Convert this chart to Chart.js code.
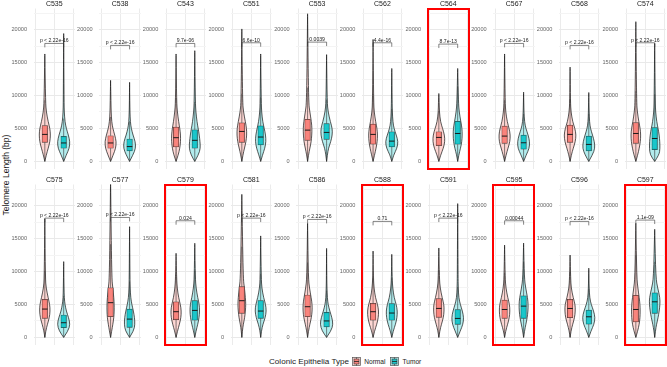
<!DOCTYPE html>
<html>
<head>
<meta charset="utf-8">
<script src="https://cdn.jsdelivr.net/npm/chart.js@4.4.1/dist/chart.umd.min.js"></script>
<style>
html, body { margin: 0; padding: 0; background: #fff; }
#wrap { position: relative; width: 667px; height: 367px; overflow: hidden; font-family: "Liberation Sans", Arial, sans-serif; }
#wrap canvas { position: absolute; }
.hl { position: absolute; border: 2px solid #FF0000; box-sizing: border-box; pointer-events: none; }
#ytitle { position: absolute; left: 5.5px; top: 175px; transform: translate(-50%, -50%) rotate(-90deg); font-size: 8.5px; color: #1a1a1a; white-space: nowrap; }
#legend { position: absolute; left: 269px; top: 355px; height: 12px; display: flex; align-items: center; white-space: nowrap; color: #1a1a1a; }
#legend .ttl { font-size: 8.1px; margin-right: 2.6px; }
#legend .lab { font-size: 6.6px; margin: 0 4.3px 0 3.7px; }
#legend svg { display: block; }
</style>
</head>
<body>
<div id="wrap">
  <div id="ytitle">Telomere Length (bp)</div>
  <div id="legend">
    <span class="ttl">Colonic Epithelia Type</span>
    <svg width="9" height="9"><rect x="0.4" y="0.4" width="8.2" height="8.2" fill="rgba(248,118,109,0.3)" stroke="#555" stroke-width="0.7"/><rect x="2" y="2" width="5" height="5" fill="rgba(248,118,109,0.85)" stroke="#333" stroke-width="0.6"/><line x1="2" y1="4.5" x2="7" y2="4.5" stroke="#222" stroke-width="0.8"/><line x1="4.5" y1="0.4" x2="4.5" y2="2" stroke="#333" stroke-width="0.6"/><line x1="4.5" y1="7" x2="4.5" y2="8.6" stroke="#333" stroke-width="0.6"/></svg>
    <span class="lab">Normal</span>
    <svg width="9" height="9"><rect x="0.4" y="0.4" width="8.2" height="8.2" fill="rgba(0,191,196,0.3)" stroke="#555" stroke-width="0.7"/><rect x="2" y="2" width="5" height="5" fill="rgba(0,191,196,0.85)" stroke="#333" stroke-width="0.6"/><line x1="2" y1="4.5" x2="7" y2="4.5" stroke="#222" stroke-width="0.8"/><line x1="4.5" y1="0.4" x2="4.5" y2="2" stroke="#333" stroke-width="0.6"/><line x1="4.5" y1="7" x2="4.5" y2="8.6" stroke="#333" stroke-width="0.6"/></svg>
    <span class="lab">Tumor</span>
  </div>
</div>
<script>
// samples, in facet order (2 rows x 10)
const samples = ['C535', 'C538', 'C543', 'C551', 'C553', 'C562', 'C564', 'C567', 'C568', 'C574',
                 'C575', 'C577', 'C579', 'C581', 'C586', 'C588', 'C591', 'C595', 'C596', 'C597'];
const highlighted = ['C564', 'C579', 'C588', 'C595', 'C597'];
const pLabels = ['p < 2.22e-16', 'p < 2.22e-16', '9.7e-06', '6.6e-10', '0.0039', '4.4e-16', '8.7e-13', 'p < 2.22e-16', 'p < 2.22e-16', 'p < 2.22e-16',
                 'p < 2.22e-16', 'p < 2.22e-16', '0.024', 'p < 2.22e-16', 'p < 2.22e-16', '0.71', 'p < 2.22e-16', '0.00044', 'p < 2.22e-16', '1.1e-09'];
const bracketY = [17900, 17600, 17900, 18000, 18100, 18000, 17800, 17900, 17600, 18000,
                  18100, 18200, 17700, 18100, 17900, 17600, 18100, 17700, 17600, 17800];
const categories = ['Normal', 'Tumor'];
const yTicks = [0, 2500, 5000, 7500, 10000, 12500, 15000, 17500, 20000, 22500];

// box statistics (bp)
const normalQ1  = [2900, 2000, 2200, 2900, 3200, 2630, 2400, 2730, 2880, 2730, 2890, 3140, 2700, 3650, 3140, 2630, 3030, 2880, 2980, 2370];
const normalMed = [4100, 2800, 3600, 4550, 4750, 4100, 3640, 3840, 4100, 4240, 4300, 5270, 3900, 5570, 4660, 3900, 4400, 4240, 4390, 4240];
const normalQ3  = [5450, 3900, 5200, 5850, 6400, 5650, 4500, 5350, 5500, 5900, 5770, 7540, 5400, 7700, 6430, 5160, 5900, 5650, 5760, 6400];
const normalMax = [16300, 12300, 16300, 20100, 22400, 18500, 10300, 16300, 14300, 21200, 18000, 23900, 12760, 21700, 17300, 13100, 13570, 14000, 12500, 17300];
const tumorQ1  = [2000, 1600, 2000, 2500, 3330, 2200, 2600, 1870, 1600, 1800, 1470, 1520, 2600, 2900, 1600, 2600, 1970, 2880, 2020, 3640];
const tumorMed = [2800, 2250, 3200, 3700, 4400, 3080, 4240, 2830, 2580, 3480, 2230, 2780, 4100, 4000, 2500, 3700, 2880, 4750, 3130, 5400];
const tumorQ3  = [3800, 3400, 4800, 5400, 5750, 4500, 6100, 4000, 3840, 5150, 3400, 4300, 5600, 5600, 3800, 5150, 4240, 6300, 4140, 6770];
const tumorMax = [19400, 12000, 16800, 16300, 16200, 14100, 14100, 10500, 10450, 17900, 11500, 16800, 14280, 15400, 13500, 12600, 20300, 14300, 10500, 16400];

// violin half-widths (x units) read at these telomere lengths
const densityLevels = [0, 1000, 2000, 3000, 4000, 5000, 6000, 7500, 9000];
const normalWidths = [
    [0, 0.08, 0.18, 0.27, 0.30, 0.27, 0.18, 0.08, 0.04],
    [0, 0.14, 0.27, 0.30, 0.22, 0.12, 0.06, 0.03, 0.02],
    [0, 0.12, 0.20, 0.24, 0.24, 0.20, 0.14, 0.07, 0.03],
    [0, 0.06, 0.14, 0.22, 0.26, 0.25, 0.19, 0.09, 0.04],
    [0, 0.05, 0.12, 0.19, 0.22, 0.23, 0.20, 0.12, 0.05],
    [0, 0.08, 0.16, 0.22, 0.24, 0.21, 0.14, 0.06, 0.03],
    [0, 0.10, 0.24, 0.32, 0.30, 0.20, 0.09, 0.03, 0.02],
    [0, 0.08, 0.18, 0.28, 0.30, 0.24, 0.14, 0.06, 0.03],
    [0, 0.07, 0.17, 0.28, 0.32, 0.26, 0.14, 0.05, 0.02],
    [0, 0.10, 0.18, 0.24, 0.26, 0.23, 0.16, 0.08, 0.04],
    [0, 0.05, 0.14, 0.24, 0.28, 0.26, 0.18, 0.07, 0.03],
    [0, 0.06, 0.12, 0.17, 0.19, 0.19, 0.17, 0.12, 0.06],
    [0, 0.08, 0.18, 0.26, 0.28, 0.23, 0.14, 0.06, 0.03],
    [0, 0.03, 0.08, 0.15, 0.19, 0.21, 0.19, 0.14, 0.07],
    [0, 0.05, 0.12, 0.20, 0.24, 0.24, 0.19, 0.10, 0.04],
    [0, 0.08, 0.20, 0.28, 0.30, 0.24, 0.13, 0.05, 0.02],
    [0, 0.05, 0.14, 0.24, 0.28, 0.27, 0.18, 0.07, 0.03],
    [0, 0.06, 0.16, 0.25, 0.28, 0.26, 0.17, 0.07, 0.03],
    [0, 0.05, 0.14, 0.24, 0.28, 0.27, 0.17, 0.06, 0.03],
    [0, 0.10, 0.18, 0.22, 0.23, 0.22, 0.18, 0.11, 0.05]
];
const tumorWidths = [
    [0, 0.14, 0.30, 0.33, 0.25, 0.14, 0.07, 0.03, 0.02],
    [0, 0.18, 0.32, 0.30, 0.18, 0.09, 0.04, 0.02, 0.01],
    [0, 0.20, 0.30, 0.28, 0.24, 0.18, 0.12, 0.06, 0.03],
    [0, 0.10, 0.22, 0.28, 0.26, 0.19, 0.11, 0.05, 0.03],
    [0, 0.04, 0.10, 0.22, 0.30, 0.30, 0.20, 0.08, 0.03],
    [0, 0.10, 0.28, 0.34, 0.24, 0.12, 0.06, 0.03, 0.02],
    [0, 0.06, 0.15, 0.22, 0.24, 0.23, 0.17, 0.08, 0.04],
    [0, 0.14, 0.30, 0.32, 0.24, 0.12, 0.05, 0.02, 0.01],
    [0, 0.20, 0.33, 0.30, 0.20, 0.09, 0.04, 0.02, 0.01],
    [0, 0.24, 0.28, 0.27, 0.24, 0.18, 0.11, 0.05, 0.03],
    [0, 0.24, 0.34, 0.26, 0.14, 0.07, 0.03, 0.02, 0.01],
    [0, 0.22, 0.28, 0.26, 0.20, 0.12, 0.06, 0.03, 0.02],
    [0, 0.07, 0.16, 0.23, 0.26, 0.24, 0.16, 0.07, 0.03],
    [0, 0.04, 0.12, 0.24, 0.30, 0.26, 0.16, 0.06, 0.03],
    [0, 0.24, 0.34, 0.28, 0.17, 0.08, 0.04, 0.02, 0.01],
    [0, 0.08, 0.20, 0.28, 0.30, 0.24, 0.13, 0.05, 0.02],
    [0, 0.14, 0.28, 0.32, 0.25, 0.14, 0.06, 0.03, 0.02],
    [0, 0.05, 0.12, 0.19, 0.23, 0.24, 0.21, 0.11, 0.04],
    [0, 0.12, 0.28, 0.34, 0.26, 0.13, 0.05, 0.02, 0.01],
    [0, 0.04, 0.10, 0.18, 0.24, 0.28, 0.28, 0.16, 0.06]
];

const COLORS = { Normal: [248, 118, 109], Tumor: [0, 191, 196] };
const rgba = (c, a) => `rgba(${c[0]},${c[1]},${c[2]},${a})`;
const FONT = '"Liberation Sans", Arial, sans-serif';

// layout of the facet grid
const PANEL_LEFT0 = 33.5, PANEL_STEP = 65.67, PANEL_W = 41, PANEL_H = 160.5;
const ROW_TOP = [8.5, 184.5], TITLE_H = 8.5, AXIS_W = 34;

function violinStats(i) {
    return [
        { x: 1, cat: 'Normal', q1: normalQ1[i], med: normalMed[i], q3: normalQ3[i], max: normalMax[i], widths: normalWidths[i] },
        { x: 2, cat: 'Tumor', q1: tumorQ1[i], med: tumorMed[i], q3: tumorQ3[i], max: tumorMax[i], widths: tumorWidths[i] }
    ];
}

const violinPlugin = {
    id: 'violins',
    beforeDatasetsDraw(chart, args, opts) {
        const { ctx, chartArea: a, scales: { x, y } } = chart;
        ctx.save();
        ctx.beginPath();
        ctx.rect(a.left, a.top, a.width, a.height);
        ctx.clip();
        violinStats(opts.idx).forEach(v => {
            // outline: right side bottom->top, then left side top->bottom
            const prof = densityLevels.map((lv, k) => [lv, v.widths[k]]).filter(p => p[0] < v.max);
            prof.push([v.max, 0]);
            const right = prof.map(p => [x.getPixelForValue(v.x + p[1]), y.getPixelForValue(p[0])]);
            const left = prof.slice().reverse().map(p => [x.getPixelForValue(v.x - p[1]), y.getPixelForValue(p[0])]);
            const pts = right.concat(left);
            ctx.beginPath();
            ctx.moveTo(pts[0][0], pts[0][1]);
            for (let k = 1; k < pts.length - 1; k++) {
                const mx = (pts[k][0] + pts[k + 1][0]) / 2, my = (pts[k][1] + pts[k + 1][1]) / 2;
                ctx.quadraticCurveTo(pts[k][0], pts[k][1], mx, my);
            }
            ctx.lineTo(pts[pts.length - 1][0], pts[pts.length - 1][1]);
            ctx.closePath();
            ctx.fillStyle = rgba(COLORS[v.cat], 0.3);
            ctx.fill();
            ctx.lineWidth = 0.75;
            ctx.strokeStyle = 'rgba(20,20,20,0.95)';
            ctx.stroke();
        });
        ctx.restore();
    },
    afterDatasetsDraw(chart, args, opts) {
        const { ctx, scales: { x, y } } = chart;
        const i = opts.idx;
        ctx.save();
        violinStats(i).forEach(v => {
            const px = x.getPixelForValue(v.x);
            const iqr = v.q3 - v.q1;
            const hi = Math.min(v.max, v.q3 + 1.5 * iqr);
            const lo = Math.max(0, v.q1 - 1.5 * iqr);
            ctx.strokeStyle = '#333';
            ctx.lineWidth = 0.6;
            ctx.beginPath();
            ctx.moveTo(px, y.getPixelForValue(v.q3));
            ctx.lineTo(px, y.getPixelForValue(hi));
            ctx.moveTo(px, y.getPixelForValue(v.q1));
            ctx.lineTo(px, y.getPixelForValue(lo));
            ctx.stroke();
            ctx.strokeStyle = '#1a1a1a';
            ctx.lineWidth = 1;
            ctx.beginPath();
            ctx.moveTo(px - 2.75, y.getPixelForValue(v.med));
            ctx.lineTo(px + 2.75, y.getPixelForValue(v.med));
            ctx.stroke();
        });
        // comparison bracket and p-value
        const by = y.getPixelForValue(bracketY[i]);
        const bt = y.getPixelForValue(bracketY[i] - 600);
        const x1 = x.getPixelForValue(1), x2 = x.getPixelForValue(2);
        ctx.strokeStyle = '#333';
        ctx.lineWidth = 0.6;
        ctx.beginPath();
        ctx.moveTo(x1, bt); ctx.lineTo(x1, by); ctx.lineTo(x2, by); ctx.lineTo(x2, bt);
        ctx.stroke();
        ctx.fillStyle = '#1a1a1a';
        ctx.font = '5.1px ' + FONT;
        ctx.textAlign = 'center';
        ctx.textBaseline = 'alphabetic';
        ctx.fillText(pLabels[i], (x1 + x2) / 2, by - 1.2);
        ctx.restore();
    }
};

const wrap = document.getElementById('wrap');
const charts = [];

samples.forEach((name, i) => {
    const row = Math.floor(i / 10), col = i % 10;
    const panelLeft = PANEL_LEFT0 + PANEL_STEP * col;
    const panelTop = ROW_TOP[row];
    const canvasLeft = Math.floor(panelLeft - AXIS_W);
    const axisW = panelLeft - canvasLeft;
    const canvasTop = Math.round(panelTop - TITLE_H);
    const titleH = panelTop - canvasTop;

    const canvas = document.createElement('canvas');
    canvas.width = Math.ceil(axisW + PANEL_W);
    canvas.height = Math.round(titleH + PANEL_H);
    canvas.style.left = canvasLeft + 'px';
    canvas.style.top = canvasTop + 'px';
    wrap.appendChild(canvas);

    const stats = violinStats(i);
    charts.push(new Chart(canvas.getContext('2d'), {
        type: 'bar',
        data: {
            datasets: [{
                label: name,
                data: stats.map(v => ({ x: v.x, y: [v.q1, v.q3] })),
                backgroundColor: categories.map(c => rgba(COLORS[c], 0.85)),
                borderColor: '#333',
                borderWidth: 0.5,
                borderSkipped: false,
                barThickness: 5.5
            }]
        },
        options: {
            responsive: false,
            animation: false,
            devicePixelRatio: 1,
            layout: { padding: 0 },
            scales: {
                x: {
                    type: 'linear',
                    min: 0.4,
                    max: 2.6,
                    offset: false,
                    border: { display: false },
                    grid: { color: '#EBEBEB', lineWidth: 1, drawTicks: false },
                    ticks: { display: false },
                    afterBuildTicks: s => { s.ticks = [{ value: 1 }, { value: 2 }]; },
                    afterFit: s => { s.height = 0; s.paddingLeft = 0; s.paddingRight = 0; }
                },
                y: {
                    min: -1150,
                    max: 23200,
                    border: { display: false },
                    grid: {
                        drawTicks: false,
                        lineWidth: 1,
                        color: c => (c.tick && c.tick.value % 5000 === 0) ? '#E9E9E9' : '#F4F4F4'
                    },
                    ticks: {
                        padding: 6.5,
                        color: '#666',
                        font: { size: 5.6, family: FONT },
                        callback: v => (v % 5000 === 0 ? String(v) : '')
                    },
                    afterBuildTicks: s => { s.ticks = yTicks.map(v => ({ value: v })); },
                    afterFit: s => { s.width = axisW; s.paddingTop = 0; s.paddingBottom = 0; }
                }
            },
            plugins: {
                legend: { display: false },
                tooltip: { enabled: false },
                title: {
                    display: true,
                    text: name,
                    fullSize: false,
                    color: '#1a1a1a',
                    font: { size: 7, weight: 'normal', lineHeight: 1, family: FONT },
                    padding: { top: titleH - 8, bottom: 1 }
                },
                violins: { idx: i }
            }
        },
        plugins: [violinPlugin]
    }));

    if (highlighted.includes(name)) {
        const box = document.createElement('div');
        box.className = 'hl';
        box.style.left = (panelLeft - 1) + 'px';
        box.style.top = (panelTop - 1) + 'px';
        box.style.width = (PANEL_W + 2) + 'px';
        box.style.height = (PANEL_H + 2) + 'px';
        wrap.appendChild(box);
    }
});
</script>
</body>
</html>
